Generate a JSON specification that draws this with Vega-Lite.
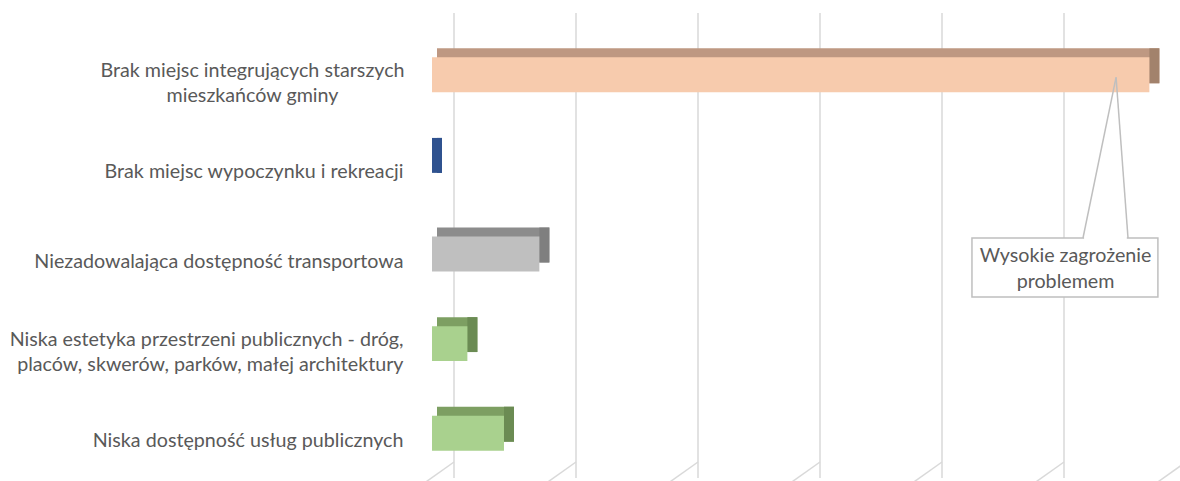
{
  "$schema": "https://vega.github.io/schema/vega-lite/v6.json",
  "width": 732,
  "height": 448,
  "autosize": {"type": "none"},
  "padding": {"left": 432, "top": 30, "right": 16, "bottom": 3},
  "background": "white",
  "config": {"view": {"stroke": null}, "font": "Lato"},
  "datasets": {
    "problems": [
      {"problem": "Brak miejsc integrujących starszych mieszkańców gminy", "share": 58.8},
      {"problem": "Brak miejsc wypoczynku i rekreacji", "share": 0},
      {"problem": "Niezadowalająca dostępność transportowa", "share": 8.8},
      {"problem": "Niska estetyka przestrzeni publicznych - dróg, placów, skwerów, parków, małej architektury", "share": 2.9},
      {"problem": "Niska dostępność usług publicznych", "share": 5.9}
    ],
    "grid": [{"g": 0}, {"g": 10}, {"g": 20}, {"g": 30}, {"g": 40}, {"g": 50}, {"g": 60}],
    "note": [{"text": "Wysokie zagrożenie problemem"}]
  },
  "layer": [
    {
      "data": {"name": "grid"},
      "mark": {"type": "rule", "color": "#d9d9d9", "strokeWidth": 1.5, "xOffset": 22, "yOffset": -17, "y2Offset": -16},
      "encoding": {
        "x": {"field": "g", "type": "quantitative", "scale": {"domain": [0, 60], "nice": false, "zero": true}, "axis": null}
      }
    },
    {
      "data": {"name": "grid"},
      "mark": {"type": "rule", "color": "#d9d9d9", "strokeWidth": 1.5, "xOffset": 22, "x2Offset": -9, "yOffset": -16, "y2Offset": 6},
      "encoding": {
        "x": {"field": "g", "type": "quantitative"},
        "x2": {"field": "g"},
        "y": {"value": "height"},
        "y2": {"value": "height"}
      }
    },
    {
      "data": {"name": "problems"},
      "mark": {"type": "bar", "xOffset": 10, "x2Offset": 5, "yOffset": -9},
      "encoding": {
        "y": {
          "field": "problem", "type": "nominal",
          "scale": {
            "domain": [
              "Brak miejsc integrujących starszych mieszkańców gminy",
              "Brak miejsc wypoczynku i rekreacji",
              "Niezadowalająca dostępność transportowa",
              "Niska estetyka przestrzeni publicznych - dróg, placów, skwerów, parków, małej architektury",
              "Niska dostępność usług publicznych"
            ],
            "paddingInner": 0.61, "paddingOuter": 0.305
          },
          "axis": {
            "title": null, "domain": false, "ticks": false, "grid": false,
            "labelFont": "Lato", "labelFontSize": 19.7, "labelColor": "#595959",
            "labelLineHeight": 25, "labelLimit": 600,
            "labelOffset": {"condition": {"test": "indexof(datum.value, 'starszych') >= 0 || indexof(datum.value, 'estetyka') >= 0", "value": -4}, "value": 8},
            "labelAlign": {"condition": {"test": "indexof(datum.value, 'starszych') >= 0", "value": "center"}, "value": "right"},
            "labelPadding": {"condition": {"test": "indexof(datum.value, 'starszych') >= 0", "value": 180}, "value": 29},
            "labelExpr": "indexof(datum.value, 'starszych') >= 0 ? ['Brak miejsc integrujących starszych', 'mieszkańców gminy'] : indexof(datum.value, 'estetyka') >= 0 ? ['Niska estetyka przestrzeni publicznych - dróg,', 'placów, skwerów, parków, małej architektury'] : datum.value"
          }
        },
        "x": {"field": "share", "type": "quantitative"},
        "x2": {"datum": 0},
        "color": {
          "field": "problem", "type": "nominal", "legend": null,
          "scale": {
            "domain": [
              "Brak miejsc integrujących starszych mieszkańców gminy",
              "Brak miejsc wypoczynku i rekreacji",
              "Niezadowalająca dostępność transportowa",
              "Niska estetyka przestrzeni publicznych - dróg, placów, skwerów, parków, małej architektury",
              "Niska dostępność usług publicznych"
            ],
            "range": ["#be9882", "#2f528f", "#8c8c8c", "#7d9f62", "#7d9f62"]
          }
        }
      }
    },
    {
      "data": {"name": "problems"},
      "mark": {"type": "bar", "xOffset": 10, "x2Offset": 0, "yOffset": -9},
      "encoding": {
        "y": {"field": "problem", "type": "nominal"},
        "x": {"field": "share", "type": "quantitative"},
        "x2": {"field": "share"},
        "color": {
          "field": "problem", "type": "nominal", "legend": null,
          "scale": {
            "domain": [
              "Brak miejsc integrujących starszych mieszkańców gminy",
              "Brak miejsc wypoczynku i rekreacji",
              "Niezadowalająca dostępność transportowa",
              "Niska estetyka przestrzeni publicznych - dróg, placów, skwerów, parków, małej architektury",
              "Niska dostępność usług publicznych"
            ],
            "range": ["#a2826c", "#2f528f", "#7f7f7f", "#6b8b53", "#6b8b53"]
          }
        }
      }
    },
    {
      "data": {"name": "problems"},
      "mark": {"type": "bar"},
      "encoding": {
        "y": {"field": "problem", "type": "nominal"},
        "x": {"field": "share", "type": "quantitative"},
        "x2": {"datum": 0},
        "color": {
          "field": "problem", "type": "nominal", "legend": null,
          "scale": {
            "domain": [
              "Brak miejsc integrujących starszych mieszkańców gminy",
              "Brak miejsc wypoczynku i rekreacji",
              "Niezadowalająca dostępność transportowa",
              "Niska estetyka przestrzeni publicznych - dróg, placów, skwerów, parków, małej architektury",
              "Niska dostępność usług publicznych"
            ],
            "range": ["#f7cbad", "#2f528f", "#bfbfbf", "#a9d18e", "#a9d18e"]
          }
        }
      }
    },
    {
      "data": {"name": "note"},
      "mark": {"type": "rect", "fill": "white", "stroke": "#bfbfbf", "strokeWidth": 1.5, "yOffset": -16, "y2Offset": 43},
      "encoding": {
        "x": {"datum": 44.26, "type": "quantitative"},
        "x2": {"datum": 59.5},
        "y": {"datum": "Niezadowalająca dostępność transportowa", "type": "nominal", "bandPosition": 0.5},
        "y2": {"datum": "Niezadowalająca dostępność transportowa", "bandPosition": 0.5}
      }
    },
    {
      "data": {"name": "note"},
      "mark": {"type": "rule", "color": "white", "strokeWidth": 2.5, "yOffset": -16, "y2Offset": -16},
      "encoding": {
        "x": {"datum": 53.45, "type": "quantitative"},
        "x2": {"datum": 56.95},
        "y": {"datum": "Niezadowalająca dostępność transportowa", "type": "nominal", "bandPosition": 0.5},
        "y2": {"datum": "Niezadowalająca dostępność transportowa", "bandPosition": 0.5}
      }
    },
    {
      "data": {"name": "note"},
      "mark": {"type": "rule", "color": "#bfbfbf", "strokeWidth": 1.5, "yOffset": 2.5, "y2Offset": -16},
      "encoding": {
        "x": {"datum": 56.07, "type": "quantitative"},
        "x2": {"datum": 53.36},
        "y": {"datum": "Brak miejsc integrujących starszych mieszkańców gminy", "type": "nominal", "bandPosition": 0.5},
        "y2": {"datum": "Niezadowalająca dostępność transportowa", "bandPosition": 0.5}
      }
    },
    {
      "data": {"name": "note"},
      "mark": {"type": "rule", "color": "#bfbfbf", "strokeWidth": 1.5, "yOffset": 2.5, "y2Offset": -16},
      "encoding": {
        "x": {"datum": 56.07, "type": "quantitative"},
        "x2": {"datum": 57.05},
        "y": {"datum": "Brak miejsc integrujących starszych mieszkańców gminy", "type": "nominal", "bandPosition": 0.5},
        "y2": {"datum": "Niezadowalająca dostępność transportowa", "bandPosition": 0.5}
      }
    },
    {
      "data": {"name": "note"},
      "mark": {"type": "text", "font": "Lato", "fontSize": 19.7, "color": "#595959", "align": "center", "baseline": "middle", "lineHeight": 26, "yOffset": 2},
      "encoding": {
        "x": {"datum": 51.93, "type": "quantitative"},
        "y": {"datum": "Niezadowalająca dostępność transportowa", "type": "nominal", "bandPosition": 0.5},
        "text": {"value": ["Wysokie zagrożenie", "problemem"]}
      }
    }
  ],
  "resolve": {"scale": {"color": "independent"}}
}
